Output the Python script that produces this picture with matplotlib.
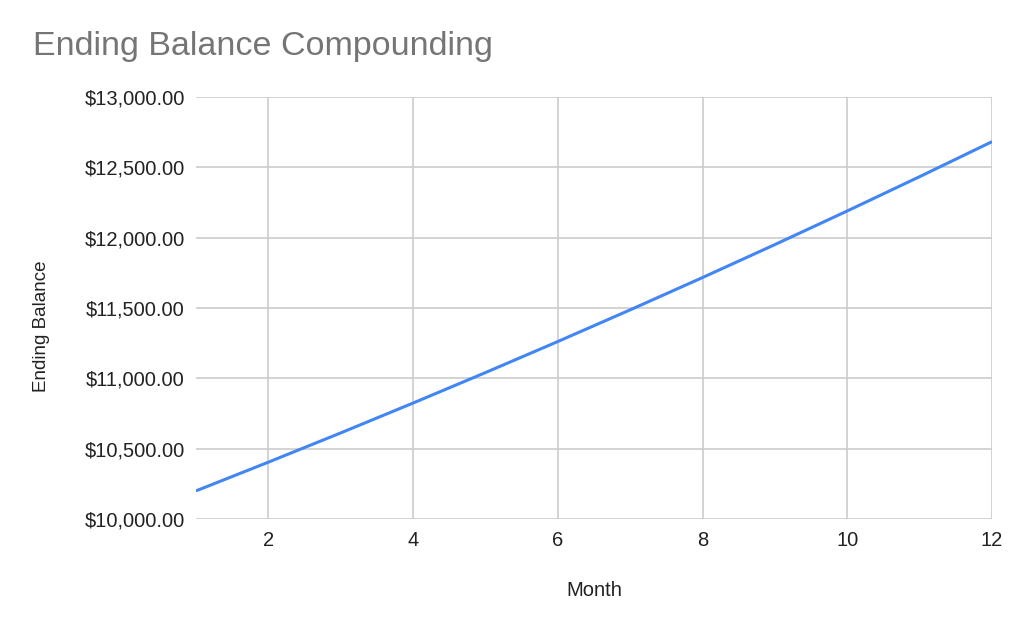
import matplotlib
matplotlib.use("Agg")
import matplotlib.pyplot as plt
from matplotlib.ticker import FuncFormatter

month = [1, 2, 3, 4, 5, 6, 7, 8, 9, 10, 11, 12]
ending_balance = [10200.00, 10404.00, 10612.08, 10824.32, 11040.81, 11261.62,
                  11486.86, 11716.59, 11950.93, 12189.94, 12433.74, 12682.42]
y_ticks = [10000, 10500, 11000, 11500, 12000, 12500, 13000]
x_ticks = [2, 4, 6, 8, 10, 12]

plt.rcParams['font.family'] = ['Liberation Sans', 'DejaVu Sans']

fig = plt.figure(figsize=(10.24, 6.33), dpi=100)
ax = fig.add_axes([196 / 1024, 1 - 519 / 633, (992 - 196) / 1024, (519 - 97) / 633])

ax.plot(month, ending_balance, color='#4285f4', linewidth=2.2, solid_capstyle='butt')

ax.set_xlim(1, 12)
ax.set_ylim(10000, 13000)
ax.set_xticks(x_ticks)
ax.set_yticks(y_ticks)
ax.yaxis.set_major_formatter(FuncFormatter(lambda v, p: "${:,.2f}".format(v)))
ax.grid(True, color='#cccccc', linewidth=1.2)
ax.set_axisbelow(True)
for s in ax.spines.values():
    s.set_visible(False)
ax.tick_params(length=0, labelsize=14.5, colors='#222222', pad=8)
ax.tick_params(axis='x', pad=9)

# axis titles placed like the sheets chart
fig.text(594 / 1024, 1 - 590 / 633, "Month", fontsize=14.5, color='#222222',
         ha='center', va='center')
fig.text(42 / 1024, 1 - 326 / 633, "Ending Balance", fontsize=13.5, color='#222222',
         ha='center', va='center', rotation=90)
fig.text(33 / 1024, 1 - 47 / 633, "Ending Balance Compounding", fontsize=24.5,
         color='#757575', va='center', ha='left')

fig.savefig("out.png", dpi=100, facecolor='white')
